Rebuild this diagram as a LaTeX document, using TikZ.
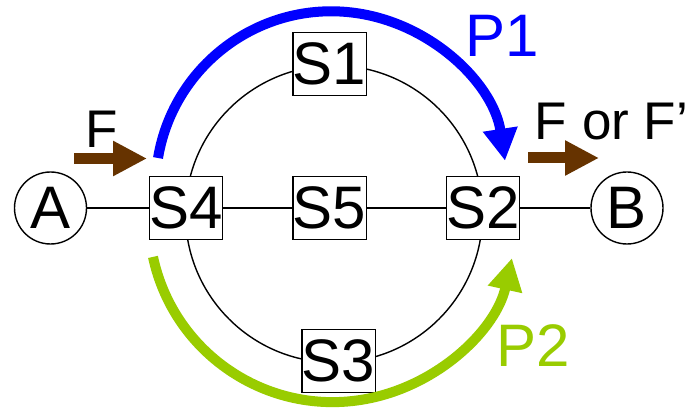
\documentclass[tikz,border=0pt]{standalone}
\usepackage{fontspec}
\setmainfont{Liberation Sans}
\usetikzlibrary{arrows.meta}
\definecolor{pblue}{RGB}{0,0,255}
\definecolor{pgreen}{RGB}{153,204,0}
\definecolor{fbrown}{RGB}{102,51,0}
\newcommand{\labfont}{\fontsize{60pt}{70pt}\selectfont}
\newcommand{\flabfont}{\fontsize{53pt}{62pt}\selectfont}
\begin{document}
\begin{tikzpicture}[x=1pt,y=1pt,
  thinline/.style={line width=1.4pt,black},
  sbox/.style={draw,line width=1.4pt,fill=white,rectangle,minimum width=72pt,minimum height=63pt,inner sep=0pt,font=\labfont},
  endpt/.style={draw,line width=1.4pt,fill=white,circle,minimum size=72pt,inner sep=0pt,font=\labfont},
  patharrow/.style={line width=10pt,-{Triangle[length=32pt,width=33pt]}},
  flowarrow/.style={line width=11pt,fbrown,-{Triangle[length=34pt,width=33pt]}},
  flab/.style={inner sep=0pt,font=\flabfont},
  plab/.style={inner sep=0pt,font=\labfont}]
\useasboundingbox (0,0) rectangle (698,412);
\fill[white] (0,0) rectangle (698,412);
% ring
\coordinate (ringc) at (334,198);
\draw[thinline] (ringc) circle[radius=148.5pt];
% nodes
\node[endpt] (A) at (50.5,204) {A};
\node[endpt] (B) at (627,204) {B};
\node[sbox] (S4) at (186,204) {S4};
\node[sbox] (S5) at (329.5,204) {S5};
\node[sbox] (S2) at (483,204) {S2};
\node[sbox] (S1) at (329.5,348) {S1};
\node[sbox] (S3) at (338.5,51) {S3};
% straight connectors
\draw[thinline] (A) -- (S4);
\draw[thinline] (S4) -- (S5);
\draw[thinline] (S5) -- (S2);
\draw[thinline] (S2) -- (B);
% path arrows
\coordinate (p1c) at (331.3,225);
\draw[patharrow,pblue] (p1c) ++(170.5:175.7pt) arc[start angle=170.5,end angle=8.6,radius=175.7pt];
\coordinate (p2c) at (332.6,193.6);
\draw[patharrow,pgreen] (p2c) ++(192.1:183.7pt) arc[start angle=192.1,end angle=347.5,radius=183.7pt];
% flow arrows
\coordinate (f1s) at (74,253.5);
\coordinate (f1e) at (147,253.5);
\draw[flowarrow] (f1s) -- (f1e);
\coordinate (f2s) at (528,254);
\coordinate (f2e) at (599,254);
\draw[flowarrow] (f2s) -- (f2e);
% labels
\node[flab] (Flab) at (101.5,283) {F};
\node[flab] (FFlab) at (611.5,290.5) {F or F’};
\node[plab,text=pblue] (P1) at (502,376) {P1};
\node[plab,text=pgreen] (P2) at (533.5,66) {P2};
\end{tikzpicture}
\end{document}
